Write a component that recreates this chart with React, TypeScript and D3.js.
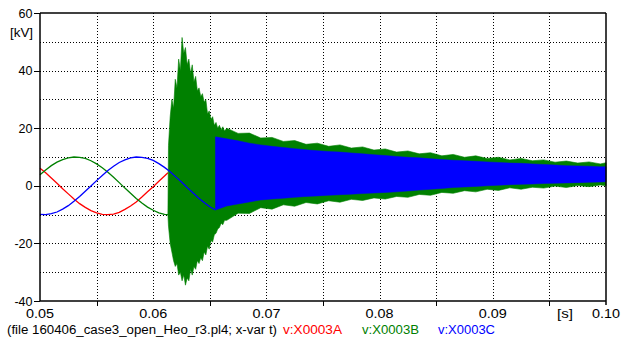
import React from "react";
import * as d3 from "d3";

// ---- tick labels ----
const xLabelValues = [0.05, 0.06, 0.07, 0.08, 0.09, 0.1];
const xLabels = ["0.05", "0.06", "0.07", "0.08", "0.09", "0.10"];
const xMinorTicks = [0.055, 0.065, 0.075, 0.085, 0.095];
const xGrid = [0.055, 0.06, 0.065, 0.07, 0.075, 0.08, 0.085, 0.09, 0.095];
const yLabelValues = [-40, -20, 0, 20, 40, 60];
const yLabels = ["-40", "-20", "0", "20", "40", "60"];
const yGrid = [-30, -20, -10, 0, 10, 20, 30, 40, 50];

// ---- pre-fault sinusoids (kV), sampled every 0.5 ms ----
const sineT = [0.05, 0.0505, 0.051, 0.0515, 0.052, 0.0525, 0.053, 0.0535, 0.054, 0.0545, 0.055, 0.0555, 0.056, 0.0565, 0.057, 0.0575, 0.058, 0.0585, 0.059, 0.0595, 0.06, 0.0605, 0.061, 0.0613];
const vA = [6.1, 4.5, 2.7, 0.9, -1.0, -2.8, -4.6, -6.2, -7.5, -8.6, -9.4, -9.9, -10.0, -9.8, -9.2, -8.2, -7.0, -5.6, -3.9, -2.1, -0.3, 1.6, 3.4, 4.5];
const vB = [3.8, 5.5, 7.0, 8.2, 9.1, 9.7, 10.0, 9.9, 9.5, 8.7, 7.6, 6.3, 4.7, 3.0, 1.1, -0.8, -2.6, -4.4, -6.0, -7.4, -8.5, -9.4, -9.9, -10.0];
const blueT = [0.05, 0.0505, 0.051, 0.0515, 0.052, 0.0525, 0.053, 0.0535, 0.054, 0.0545, 0.055, 0.0555, 0.056, 0.0565, 0.057, 0.0575, 0.058, 0.0585, 0.059, 0.0595, 0.06, 0.0605, 0.061, 0.0615, 0.062, 0.0625, 0.063, 0.0635, 0.064, 0.0645, 0.065, 0.0655];
const vC = [-9.9, -10.0, -9.7, -9.1, -8.1, -6.9, -5.4, -3.7, -1.9, -0.1, 1.8, 3.6, 5.3, 6.8, 8.1, 9.0, 9.7, 10.0, 9.9, 9.5, 8.8, 7.7, 6.4, 4.9, 3.1, 1.3, -0.6, -2.4, -4.2, -5.8, -7.3, -8.4];

// ---- phase B transient envelope (kV) ----
const greenEnvT = [0.0613, 0.06135, 0.0615, 0.06165, 0.0618, 0.06195, 0.0621, 0.06225, 0.0624, 0.06255, 0.0627, 0.06285, 0.063, 0.06315, 0.0633, 0.06345, 0.0636, 0.06375, 0.0639, 0.06405, 0.0642, 0.06435, 0.0645, 0.06465, 0.0648, 0.06495, 0.0651, 0.06525, 0.0654, 0.06555, 0.0657, 0.06585, 0.066, 0.06615, 0.0663,
  0.0665, 0.0675, 0.0685, 0.0695, 0.0705, 0.0715, 0.0725, 0.0735, 0.0745, 0.0755, 0.0765, 0.0775, 0.0785, 0.0795, 0.0805, 0.0815, 0.0825, 0.0835, 0.0845, 0.0855, 0.0865, 0.0875, 0.0885, 0.0895, 0.0905, 0.0915, 0.0925, 0.0935, 0.0945, 0.0955, 0.0965, 0.0975, 0.0985, 0.0995, 0.1];
const greenEnvHi = [-9.9, 14, 24, 30, 27, 37, 34, 44, 40, 51.5, 46, 48, 42, 44, 39, 42, 36, 38, 33, 34, 31, 32, 29, 30, 25, 26, 23, 24, 21, 22, 20, 21, 19.5, 20.5, 19,
  20, 18.2, 18.3, 16.6, 16.8, 15.4, 15.7, 14.4, 14.8, 13.7, 14.2, 13.1, 13.5, 12.4, 12.8, 11.7, 12.1, 11.1, 11.5, 10.4, 10.9, 9.9, 10.4, 9.5, 9.9, 9.0, 9.5, 8.7, 9.0, 8.2, 8.6, 7.9, 8.3, 7.6, 8.0];
const greenEnvLo = [-10.0, -14, -20, -23, -26, -28, -27, -31, -30, -33, -31, -34.5, -32, -33, -29, -31, -28, -29, -26, -27, -25, -26, -23, -24, -21, -22, -19, -19.5, -17, -16.5, -15, -14.5, -13, -13.5, -12,
  -12, -9.5, -9.6, -7.6, -8.1, -6.6, -7.1, -5.8, -6.3, -5.2, -5.7, -4.7, -5.1, -4.2, -4.6, -3.7, -4.0, -3.0, -3.3, -2.3, -2.6, -1.7, -2.1, -1.2, -1.6, -0.7, -1.2, -0.5, -0.8, -0.1, -0.6, 0.1, -0.3, 0.3, 0.0];

// ---- phase C oscillation envelope (kV) ----
const blueEnvT = [0.0655, 0.0665, 0.0675, 0.0685, 0.0695, 0.0705, 0.0715, 0.0725, 0.0735, 0.0745, 0.0755, 0.0765, 0.0775, 0.0785, 0.0795, 0.0805, 0.0815, 0.0825, 0.0835, 0.0845, 0.0855, 0.0865, 0.0875, 0.0885, 0.0895, 0.0905, 0.0915, 0.0925, 0.0935, 0.0945, 0.0955, 0.0965, 0.0975, 0.0985, 0.0995, 0.1];
const blueEnvHi = [17, 16.3, 15.6, 14.8, 14.2, 13.7, 13.3, 12.9, 12.5, 12.2, 11.9, 11.7, 11.4, 11.1, 10.8, 10.5, 10.2, 9.9, 9.7, 9.4, 9.1, 8.9, 8.7, 8.5, 8.3, 8.1, 7.9, 7.8, 7.6, 7.4, 7.2, 7.0, 6.9, 6.8, 6.6, 6.6];
const blueEnvLo = [-8.4, -7.0, -6.3, -5.6, -4.9, -4.6, -4.3, -4.0, -3.7, -3.5, -3.3, -3.1, -2.9, -2.7, -2.5, -2.3, -2.1, -1.8, -1.5, -1.2, -0.9, -0.6, -0.4, -0.2, 0.0, 0.2, 0.4, 0.5, 0.6, 0.8, 0.9, 1.0, 1.1, 1.2, 1.3, 1.4];

const footerText = "(file 160406_case3_open_Heo_r3.pl4; x-var t)";
const legendNames = ["v:X0003A", "v:X0003B", "v:X0003C"];

const RED = "#ff0000";
const GREEN = "#008000";
const BLUE = "#0000ff";
const FONT = "'Liberation Sans', Arial, sans-serif";

export default function App() {
  const W = 627, H = 342;
  const x = d3.scaleLinear().domain([0.05, 0.1]).range([40, 606]);
  const y = d3.scaleLinear().domain([-40, 60]).range([301, 13]);

  const line = d3.line<[number, number]>().x(d => x(d[0])).y(d => y(d[1]));
  const area = d3.area<[number, number, number]>().x(d => x(d[0])).y0(d => y(d[2])).y1(d => y(d[1]));

  const redPts = sineT.map((t, i) => [t, vA[i]] as [number, number]);
  const greenPts = sineT.map((t, i) => [t, vB[i]] as [number, number]);
  const bluePts = blueT.map((t, i) => [t, vC[i]] as [number, number]);
  const greenEnv = greenEnvT.map((t, i) => [t, greenEnvHi[i], greenEnvLo[i]] as [number, number, number]);
  const blueEnv = blueEnvT.map((t, i) => [t, blueEnvHi[i], blueEnvLo[i]] as [number, number, number]);

  const [x0, x1] = x.range();
  const [yb, yt] = y.range();

  return (
    <svg width={W} height={H} style={{ position: "absolute", left: 0, top: 0, background: "#fff" }} fontFamily={FONT}>
      <rect x={0} y={0} width={W} height={H} fill="#fff" />
      {/* grid */}
      <g stroke="#000" strokeWidth={1} strokeDasharray="1 2">
        {xGrid.map(v => (
          <line key={"gx" + v} x1={Math.round(x(v)) + 0.5} x2={Math.round(x(v)) + 0.5} y1={yt} y2={yb} />
        ))}
        {yGrid.map(v => (
          <line key={"gy" + v} x1={x0} x2={x1} y1={Math.round(y(v)) + 0.5} y2={Math.round(y(v)) + 0.5} />
        ))}
      </g>
      {/* traces */}
      <path d={line(redPts) || ""} fill="none" stroke={RED} strokeWidth={1.3} />
      <path d={line(greenPts) || ""} fill="none" stroke={GREEN} strokeWidth={1.3} />
      <path d={area(greenEnv) || ""} fill={GREEN} stroke={GREEN} strokeWidth={0.6} />
      <path d={line(bluePts) || ""} fill="none" stroke={BLUE} strokeWidth={1.3} />
      <path d={area(blueEnv) || ""} fill={BLUE} stroke={BLUE} strokeWidth={0.5} />
      {/* frame */}
      <g stroke="#000" strokeWidth={1.5} fill="none">
        <line x1={x0} x2={x1} y1={yt} y2={yt} />
        <line x1={x0} x2={x1} y1={yb} y2={yb} />
        <line x1={x0} x2={x0} y1={yt} y2={yb} />
        <line x1={x1} x2={x1} y1={yt} y2={yb + 4} />
      </g>
      {/* ticks */}
      <g stroke="#000" strokeWidth={1}>
        {xMinorTicks.map(v => (
          <line key={"xt" + v} x1={Math.round(x(v)) + 0.5} x2={Math.round(x(v)) + 0.5} y1={yb} y2={yb + 5} />
        ))}
        {yLabelValues.map(v => (
          <line key={"yt" + v} x1={x0 - 6} x2={x0} y1={Math.round(y(v)) + 0.5} y2={Math.round(y(v)) + 0.5} />
        ))}
      </g>
      {/* labels */}
      <g fontSize={12.5} fill="#000">
        {xLabelValues.map((v, i) => (
          <text key={"xl" + v} x={x(v)} y={317.5} textAnchor="middle" textLength={28} lengthAdjust="spacingAndGlyphs">{xLabels[i]}</text>
        ))}
        {yLabelValues.map((v, i) => (
          <text key={"yl" + v} x={32.5} y={y(v) + 4.5} textAnchor="end">{yLabels[i]}</text>
        ))}
        <text x={10} y={37} textLength={23} lengthAdjust="spacingAndGlyphs">[kV]</text>
        <text x={557} y={317.5} textLength={16} lengthAdjust="spacingAndGlyphs">[s]</text>
      </g>
      <g fontSize={12}>
        <text x={7} y={334} fill="#000" textLength={270} lengthAdjust="spacingAndGlyphs">{footerText}</text>
        <text x={283} y={334} fill={RED} textLength={59} lengthAdjust="spacingAndGlyphs">{legendNames[0]}</text>
        <text x={362} y={334} fill={GREEN} textLength={57} lengthAdjust="spacingAndGlyphs">{legendNames[1]}</text>
        <text x={438} y={334} fill={BLUE} textLength={57} lengthAdjust="spacingAndGlyphs">{legendNames[2]}</text>
      </g>
    </svg>
  );
}
